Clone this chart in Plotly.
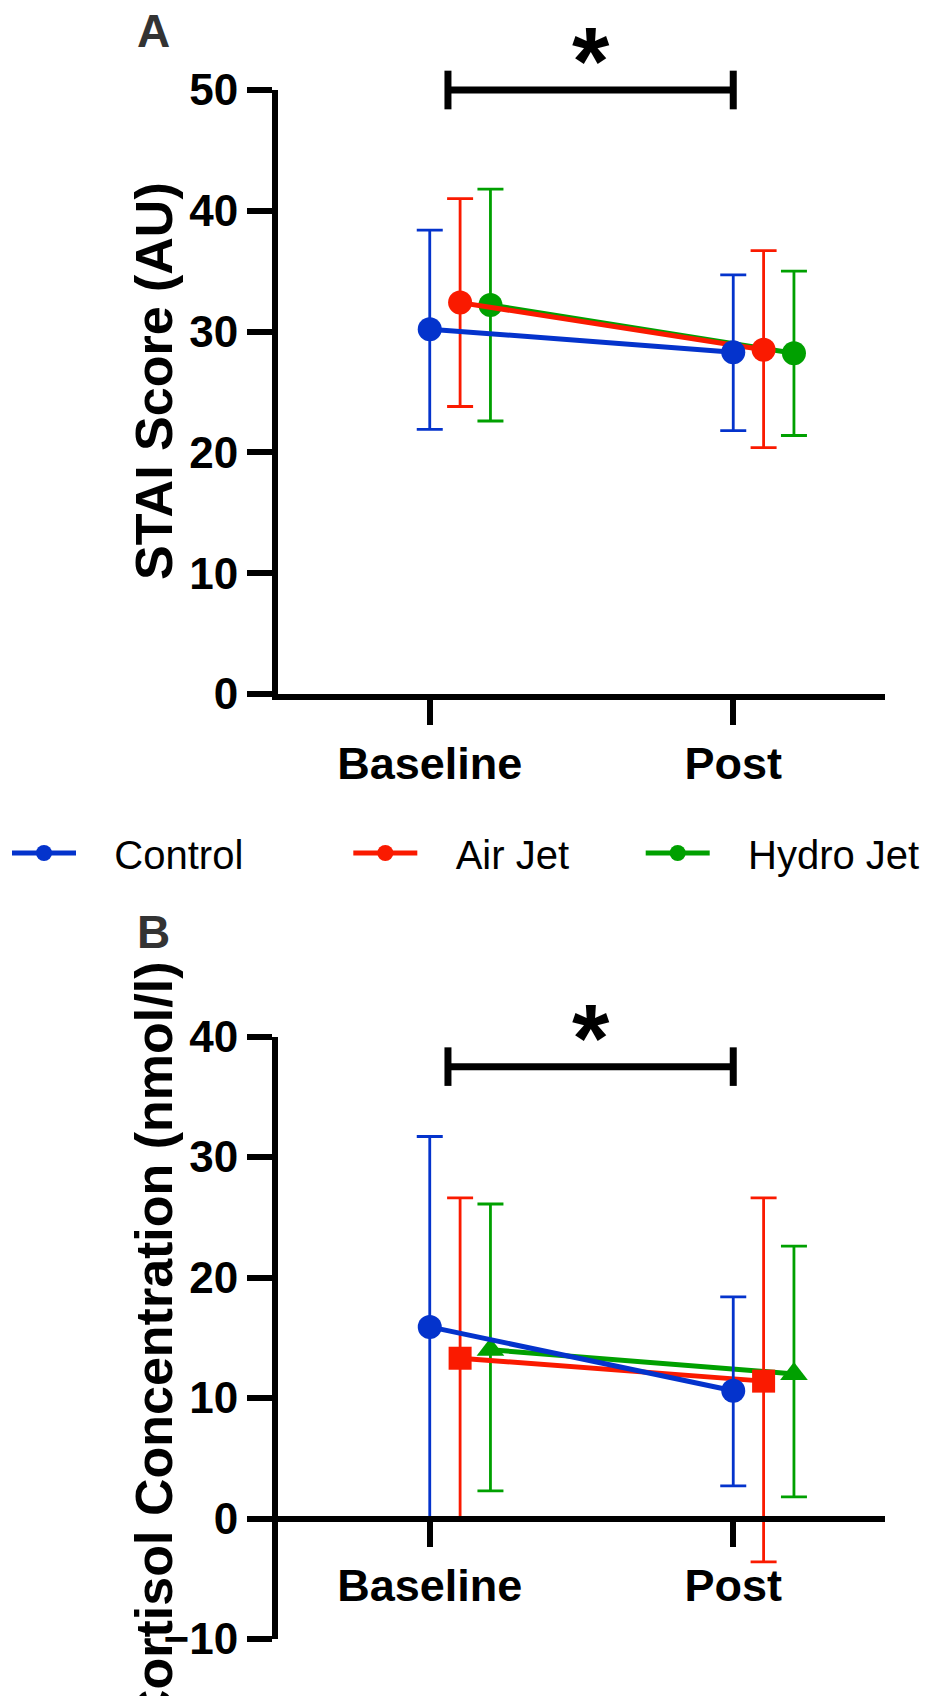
import plotly.graph_objects as go

# ---------------- data ----------------
groups = ["Baseline", "Post"]
series_names = ["Control", "Air Jet", "Hydro Jet"]

stai_control = [30.2, 28.3]
stai_control_hi = [38.4, 34.7]
stai_control_lo = [21.9, 21.8]
stai_air = [32.4, 28.5]
stai_air_hi = [41.0, 36.7]
stai_air_lo = [23.8, 20.4]
stai_hydro = [32.2, 28.2]
stai_hydro_hi = [41.8, 35.0]
stai_hydro_lo = [22.6, 21.4]

cort_control = [15.9, 10.6]
cort_control_hi = [31.7, 18.4]
cort_control_lo = [0.0, 2.7]
cort_air = [13.3, 11.4]
cort_air_hi = [26.6, 26.6]
cort_air_lo = [0.0, -3.6]
cort_hydro = [14.0, 12.0]
cort_hydro_hi = [26.1, 22.6]
cort_hydro_lo = [2.3, 1.8]

sig_level = [50, 37.5]      # significance bracket height (A, B)
star_level = [53.6, 41.1]   # asterisk position (A, B)

stai_ticks = [0, 10, 20, 30, 40, 50]
cort_ticks = [-10, 0, 10, 20, 30, 40]

# ---------------- style ----------------
W, H = 925, 1696
FONT = "Liberation Sans, Arial, sans-serif"
colors = {"Control": "#0433CC", "Air Jet": "#FA1A00", "Hydro Jet": "#00A000"}
offsets = {"Control": 0.0, "Air Jet": 0.1, "Hydro Jet": 0.2}
symbolsB = {"Control": "circle", "Air Jet": "square", "Hydro Jet": "triangle-up"}
sizesB = {"Control": 24, "Air Jet": 23, "Hydro Jet": 24}
NB = "\u00a0"
legend_pad_before = {"Control": 3, "Air Jet": 3, "Hydro Jet": 3}
legend_pad_after = {"Control": 9, "Air Jet": 6, "Hydro Jet": 0}


def pxx(p):
    return p / W


def pxy(p):
    return 1 - p / H


xdom = [pxx(278), pxx(885)]
xrng = [-0.5, 1.5]
ydomA = [pxy(694), pxy(90)]
yrngA = [0, 50]
ydomB = [pxy(1639), pxy(1036.5)]
yrngB = [-10, 40]


def data_to_paper(v, dom, rng):
    return dom[0] + (v - rng[0]) / (rng[1] - rng[0]) * (dom[1] - dom[0])


fig = go.Figure()

panelA = {
    "Control": (stai_control, stai_control_hi, stai_control_lo),
    "Air Jet": (stai_air, stai_air_hi, stai_air_lo),
    "Hydro Jet": (stai_hydro, stai_hydro_hi, stai_hydro_lo),
}
panelB = {
    "Control": (cort_control, cort_control_hi, cort_control_lo),
    "Air Jet": (cort_air, cort_air_hi, cort_air_lo),
    "Hydro Jet": (cort_hydro, cort_hydro_hi, cort_hydro_lo),
}

draw_order = ["Hydro Jet", "Air Jet", "Control"]
legend_rank = {"Control": 1, "Air Jet": 2, "Hydro Jet": 3}

for name in draw_order:
    m, hi, lo = panelA[name]
    xs = [i + offsets[name] for i in range(len(groups))]
    fig.add_trace(go.Scatter(
        x=xs, y=m, mode="lines+markers",
        name=NB * legend_pad_before[name] + name + NB * legend_pad_after[name],
        legendrank=legend_rank[name],
        line=dict(color=colors[name], width=5),
        marker=dict(color=colors[name], size=24, symbol="circle"),
        error_y=dict(type="data", symmetric=False,
                     array=[h - v for h, v in zip(hi, m)],
                     arrayminus=[v - l for v, l in zip(m, lo)],
                     color=colors[name], thickness=2.8, width=13),
        xaxis="x", yaxis="y", showlegend=True,
    ))

for name in draw_order:
    m, hi, lo = panelB[name]
    xs = [i + offsets[name] for i in range(len(groups))]
    fig.add_trace(go.Scatter(
        x=xs, y=m, mode="lines+markers",
        name=name, showlegend=False,
        line=dict(color=colors[name], width=5),
        marker=dict(color=colors[name], size=sizesB[name], symbol=symbolsB[name]),
        error_y=dict(type="data", symmetric=False,
                     array=[h - v for h, v in zip(hi, m)],
                     arrayminus=[v - l for v, l in zip(m, lo)],
                     color=colors[name], thickness=2.8, width=13),
        xaxis="x2", yaxis="y2",
    ))

axis_common = dict(
    showline=True, linecolor="black", linewidth=6,
    ticks="outside", ticklen=25, tickwidth=6, tickcolor="black",
    showgrid=False, zeroline=False, automargin=False,
)
xaxis_common = dict(
    axis_common, range=xrng, domain=xdom,
    tickmode="array", tickvals=list(range(len(groups))), ticktext=groups,
    tickfont=dict(family=FONT, size=45, color="black", weight="bold"),
    ticklabelstandoff=0,
)
ytickfont = dict(family=FONT, size=44, color="black", weight="bold")

fig.update_layout(
    width=W, height=H,
    margin=dict(l=0, r=0, t=0, b=0),
    paper_bgcolor="white", plot_bgcolor="white",
    xaxis=dict(xaxis_common, anchor="y"),
    yaxis=dict(axis_common, range=yrngA, domain=ydomA, anchor="x",
               tickmode="array", tickvals=stai_ticks, tickfont=ytickfont),
    xaxis2=dict(xaxis_common, anchor="free",
                position=data_to_paper(0, ydomB, yrngB)),
    yaxis2=dict(axis_common, range=yrngB, domain=ydomB, anchor="x2",
                tickmode="array", tickvals=cort_ticks, tickfont=ytickfont),
    legend=dict(
        orientation="h", x=pxx(7), xanchor="left", y=pxy(853), yanchor="middle",
        font=dict(family=FONT, size=40, color="black"),
        itemwidth=64,
        bgcolor="rgba(0,0,0,0)", traceorder="normal",
    ),
    showlegend=True,
)

# significance brackets
cap = 1.6
for ax, dom, rng, lvl in (("x", ydomA, yrngA, sig_level[0]), ("x2", ydomB, yrngB, sig_level[1])):
    yb = data_to_paper(lvl, dom, rng)
    yt = data_to_paper(lvl + cap, dom, rng)
    ylo = data_to_paper(lvl - cap, dom, rng)
    line = dict(color="black", width=7)
    fig.add_shape(type="line", xref=ax, yref="paper", x0=0.06, x1=1.0, y0=yb, y1=yb, line=line)
    fig.add_shape(type="line", xref=ax, yref="paper", x0=0.06, x1=0.06, y0=ylo, y1=yt, line=line)
    fig.add_shape(type="line", xref=ax, yref="paper", x0=1.0, x1=1.0, y0=ylo, y1=yt, line=line)

# asterisks
for ax, dom, rng, lvl in (("x", ydomA, yrngA, star_level[0]), ("x2", ydomB, yrngB, star_level[1])):
    fig.add_annotation(x=0.53, y=data_to_paper(lvl, dom, rng), xref=ax, yref="paper",
                       text="*", showarrow=False,
                       xanchor="center", yanchor="middle", yshift=-14,
                       font=dict(family=FONT, size=96, color="black", weight="bold"))

# axis titles
fig.add_annotation(x=pxx(154), y=pxy(381), xref="paper", yref="paper",
                   text="STAI Score (AU)", textangle=-90, showarrow=False,
                   xanchor="center", yanchor="middle",
                   font=dict(family=FONT, size=52, color="black", weight="bold"))
fig.add_annotation(x=pxx(154), y=pxy(1344), xref="paper", yref="paper",
                   text="Cortisol Concentration (nmol/l)", textangle=-90, showarrow=False,
                   xanchor="center", yanchor="middle",
                   font=dict(family=FONT, size=52, color="black", weight="bold"))

# panel labels
fig.add_annotation(x=pxx(153), y=pxy(31), xref="paper", yref="paper", text="A",
                   showarrow=False, xanchor="center", yanchor="middle",
                   font=dict(family=FONT, size=46, color="#333333", weight="bold"))
fig.add_annotation(x=pxx(153), y=pxy(932), xref="paper", yref="paper", text="B",
                   showarrow=False, xanchor="center", yanchor="middle",
                   font=dict(family=FONT, size=46, color="#333333", weight="bold"))

fig.write_html("out.html")
